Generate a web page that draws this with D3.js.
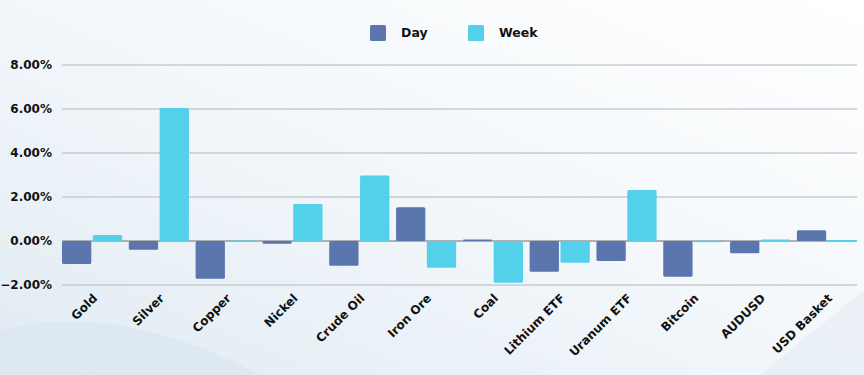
<!DOCTYPE html>
<html lang="en">
<head>
    <meta charset="UTF-8">
    <title>Day / Week</title>
    <script src="https://d3js.org/d3.v7.min.js"></script>
    <style>
        body { margin: 0; }
        svg { display: block; font-family: "DejaVu Sans", sans-serif; }
        .tick-label { font-size: 12px; font-weight: 700; fill: #111; }
        .legend-text { font-size: 12.5px; font-weight: 700; fill: #111; }
    </style>
</head>
<body>
<svg id="chart"></svg>
<script>
    const categories = ["Gold", "Silver", "Copper", "Nickel", "Crude Oil", "Iron Ore", "Coal",
        "Lithium ETF", "Uranum ETF", "Bitcoin", "AUDUSD", "USD Basket"];
    const seriesNames = ["Day", "Week"];
    const dayValues = [-1.05, -0.40, -1.72, -0.13, -1.12, 1.53, 0.07, -1.40, -0.91, -1.62, -0.56, 0.49];
    const weekValues = [0.27, 6.05, 0.02, 1.68, 2.98, -1.22, -1.90, -0.99, 2.32, 0.01, 0.07, 0.05];
    const yTicks = [-2, 0, 2, 4, 6, 8];

    const width = 864, height = 375;
    const colors = {Day: "#5a76ac", Week: "#53d0ea"};

    const svg = d3.select("#chart").attr("width", width).attr("height", height);

    // background
    const defs = svg.append("defs");
    const bg = defs.append("linearGradient").attr("id", "bg")
        .attr("x1", "0").attr("y1", "1").attr("x2", "1").attr("y2", "0");
    bg.append("stop").attr("offset", "0%").attr("stop-color", "#e1ebf3");
    bg.append("stop").attr("offset", "55%").attr("stop-color", "#f4f8fb");
    bg.append("stop").attr("offset", "100%").attr("stop-color", "#ffffff");
    svg.append("rect").attr("width", width).attr("height", height).attr("fill", "url(#bg)");
    // soft decorative shapes
    svg.append("path").attr("d", "M0,330 Q120,300 260,375 L0,375 Z").attr("fill", "#d8e4ee").attr("opacity", 0.6);
    svg.append("path").attr("d", "M760,375 L864,290 L864,375 Z").attr("fill", "#e6edf3").attr("opacity", 0.7);

    const x0 = d3.scaleBand().domain(categories).range([62, 857]).paddingInner(0.1).paddingOuter(0);
    const x1 = d3.scaleBand().domain(seriesNames).range([0, x0.bandwidth()]).paddingInner(0.05);
    const y = d3.scaleLinear().domain([-2, 8]).range([285, 65]);

    // gridlines
    svg.append("g").selectAll("line").data(yTicks).join("line")
        .attr("x1", 62).attr("x2", 857)
        .attr("y1", d => y(d)).attr("y2", d => y(d))
        .attr("stroke", d => d === 0 ? "#9a9a9a" : "#c8cbce")
        .attr("stroke-width", 1.5);

    // y labels
    svg.append("g").selectAll("text").data(yTicks).join("text")
        .attr("class", "tick-label")
        .attr("x", 52).attr("y", d => y(d)).attr("dy", "0.35em")
        .attr("text-anchor", "end")
        .text(d => d3.format(".2f")(d) + "%");

    // bars
    const rows = categories.map((c, i) => ({cat: c, vals: [
        {key: "Day", v: dayValues[i]}, {key: "Week", v: weekValues[i]}]}));
    const groups = svg.append("g").selectAll("g").data(rows).join("g")
        .attr("transform", d => `translate(${x0(d.cat)},0)`);
    groups.selectAll("rect").data(d => d.vals).join("rect")
        .attr("x", d => x1(d.key))
        .attr("width", x1.bandwidth())
        .attr("y", d => Math.min(y(d.v), y(0)))
        .attr("height", d => Math.max(1.5, Math.abs(y(d.v) - y(0))))
        .attr("rx", 1.5)
        .attr("fill", d => colors[d.key]);

    // x labels
    svg.append("g").selectAll("text").data(categories).join("text")
        .attr("class", "tick-label")
        .attr("text-anchor", "end")
        .attr("transform", d => `translate(${x0(d) + x0.bandwidth() / 2 + 6},${299}) rotate(-45)`)
        .text(d => d);

    // legend
    const legend = svg.append("g").selectAll("g").data(seriesNames).join("g")
        .attr("transform", (d, i) => `translate(${370 + i * 98},25)`);
    legend.append("rect").attr("width", 16).attr("height", 16).attr("rx", 1.5)
        .attr("fill", d => colors[d]);
    legend.append("text").attr("class", "legend-text")
        .attr("x", 31).attr("y", 8).attr("dy", "0.35em").text(d => d);
</script>
</body>
</html>
